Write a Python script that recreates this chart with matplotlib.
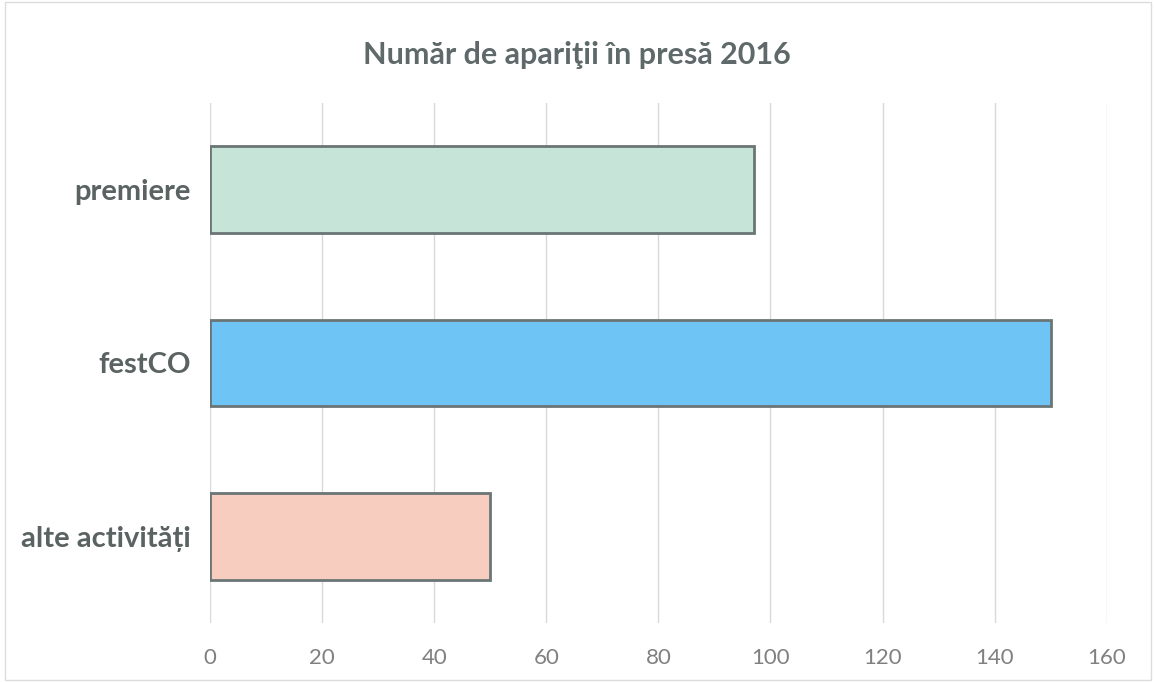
import matplotlib
matplotlib.use("Agg")
import matplotlib.pyplot as plt

categories = ["alte activități", "festCO", "premiere"]
values = [50, 150, 97]
colors = ["#f6cdbf", "#6ec4f5", "#c6e4d8"]
xticks = [0, 20, 40, 60, 80, 100, 120, 140, 160]
title = "Număr de apariţii în presă 2016"

plt.rcParams['font.family'] = ['Lato', 'DejaVu Sans']

fig = plt.figure(figsize=(11.54, 6.82), dpi=100)
ax = fig.add_axes([0.182, 0.0865, 0.777, 0.7625])

ax.barh(range(len(categories)), values, height=0.5, color=colors,
        edgecolor="#6b7575", linewidth=2, zorder=3)
ax.set_xlim(0, 160)
ax.set_ylim(-0.5, 2.5)
ax.set_xticks(xticks)
ax.set_xticklabels([str(t) for t in xticks], fontsize=16, color="#808080")
ax.set_yticks(range(len(categories)))
ax.set_yticklabels(categories, fontsize=21, fontweight="bold", color="#5a6262")
ax.tick_params(axis="both", length=0)
ax.tick_params(axis="x", pad=18)
ax.tick_params(axis="y", pad=14)
ax.grid(axis="x", color="#d9d9d9", linewidth=1, zorder=0)
for s in ax.spines.values():
    s.set_visible(False)

fig.text(0.5, 1 - 55/682, title, ha="center", va="center", fontsize=22,
         fontweight="bold", color="#5f6969")

border = plt.Rectangle((0.004, 0.003), 0.993, 0.994, transform=fig.transFigure,
                       fill=False, edgecolor="#dcdcdc", linewidth=1)
fig.patches.append(border)

fig.savefig("out.png", dpi=100)
